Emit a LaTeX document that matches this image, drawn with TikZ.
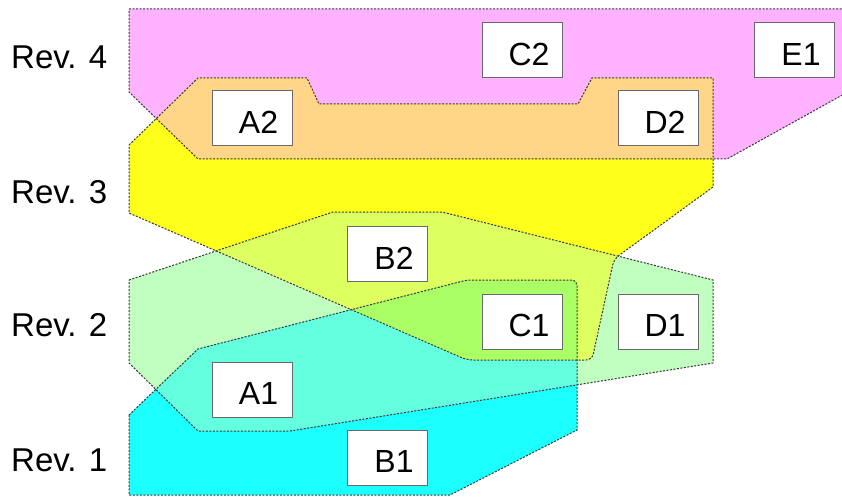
\documentclass[tikz,border=0pt]{standalone}
\usepackage{fontspec}
\setmainfont{Liberation Sans}
\definecolor{pinkc}{RGB}{255,178,255}
\definecolor{yellowc}{RGB}{255,255,28}
\definecolor{orangec}{RGB}{255,214,135}
\definecolor{greenc}{RGB}{192,255,192}
\definecolor{ygc}{RGB}{222,255,96}
\definecolor{cyanc}{RGB}{28,255,255}
\definecolor{tealc}{RGB}{100,255,222}
\definecolor{bgc}{RGB}{170,255,100}
\definecolor{edgec}{RGB}{55,55,55}
\definecolor{boxedge}{RGB}{105,105,105}
\def\pinkpath{(129,9) -- (846,9) -- (846,93) -- (727,159) -- (198,159) -- (129,92) -- cycle}
\def\yellowpath{(129,145) -- (198,78) -- (307,78) -- (319,104) -- (578,104) -- (592,78) -- (713,78) -- (713,187) [rounded corners=6pt] -- (614,259) -- (592,360) -- (467,360) [sharp corners] -- (129,213) -- cycle}
\def\greenpath{(129,280) -- (333,212) -- (442,212) -- (713,280) -- (713,363) -- (290,431) -- (198,431) -- (129,363) -- cycle}
\def\cyanpath{(129,415) -- (198,349) [rounded corners=5pt] -- (467,280) -- (577,280) [sharp corners] -- (577,430) -- (450,495) -- (129,495) -- cycle}
\begin{document}
\begin{tikzpicture}[x=1pt,y=-1pt,
  edge/.style={draw=edgec, line width=1pt, dash pattern=on 2pt off 1.5pt},
  box/.style={draw=boxedge, fill=white, line width=1pt, minimum width=80pt, minimum height=55pt, inner sep=0pt, font=\fontsize{32}{36}\selectfont, text height=30pt, text depth=0pt},
  rev/.style={anchor=west, inner sep=0pt, font=\fontsize{33}{38}\selectfont}]
\useasboundingbox (0,0) rectangle (842,497);
\begin{scope}
\clip (0,0) rectangle (842,497);
% fills
\fill[pinkc] \pinkpath;
\fill[yellowc] \yellowpath;
\begin{scope}\clip \pinkpath; \fill[orangec] \yellowpath;\end{scope}
\fill[greenc] \greenpath;
\begin{scope}\clip \yellowpath; \fill[ygc] \greenpath;\end{scope}
\fill[cyanc] \cyanpath;
\begin{scope}\clip \greenpath; \fill[tealc] \cyanpath;\end{scope}
\begin{scope}\clip \yellowpath; \fill[bgc] \cyanpath;\end{scope}
% borders
\draw[edge] \pinkpath;
\draw[edge] \yellowpath;
\draw[edge] \greenpath;
\draw[edge] \cyanpath;
\end{scope}
% boxes
\node[box] (C2) at (522.5,50.5) {\hspace*{13pt}C2};
\node[box] (E1) at (794.5,50.5) {\hspace*{13pt}E1};
\node[box] (A2) at (252,118.5) {\hspace*{13pt}A2};
\node[box] (D2) at (658.5,118.5) {\hspace*{13pt}D2};
\node[box] (B2) at (387.5,254) {\hspace*{13pt}B2};
\node[box] (C1) at (522.5,321.5) {\hspace*{13pt}C1};
\node[box] (D1) at (658.5,321.5) {\hspace*{13pt}D1};
\node[box] (A1) at (252,389.5) {\hspace*{13pt}A1};
\node[box] (B1) at (387.5,457.5) {\hspace*{13pt}B1};
% revision labels
\node[rev] (r4) at (11,57) {Rev. 4};
\node[rev] (r3) at (11,192) {Rev. 3};
\node[rev] (r2) at (11,325) {Rev. 2};
\node[rev] (r1) at (11,460) {Rev. 1};
\end{tikzpicture}
\end{document}
